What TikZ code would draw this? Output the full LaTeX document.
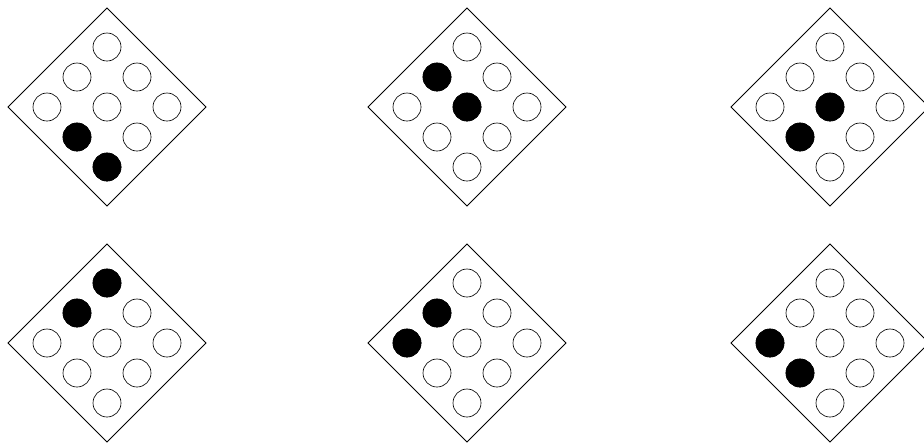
\documentclass[tikz,border=0pt]{standalone}
\usepackage{tikz}

\begin{document}
\begin{tikzpicture}[x=0.03cm,y=-0.03cm,
  board/.style={line width=0.8pt,line join=miter},
  hole/.style={circle,draw,line width=0.55pt,fill=white,minimum size=0.84cm,inner sep=0pt},
  stone/.style={hole,fill=black}]
\clip (0,0) rectangle (924,442);
\foreach \cx/\cy [count=\i] in {107/107,467/107,830/107,107/343,467/343,830/343} {
  \draw[board] ({\cx},{\cy-99}) -- ({\cx+99},{\cy}) -- ({\cx},{\cy+99}) -- ({\cx-99},{\cy}) -- cycle;
  \foreach \a in {-1,0,1}
    \foreach \b in {-1,0,1}
      \node[hole] (hole-\i-\a\b) at ({\cx+30*(\a-\b)},{\cy+30*(\a+\b)}) {};
}
\foreach \cx/\cy/\u/\v [count=\k] in {107/107/-1/1,107/107/0/2,
    467/107/-1/-1,467/107/0/0,
    830/107/0/0,830/107/-1/1,
    107/343/0/-2,107/343/-1/-1,
    467/343/-1/-1,467/343/-2/0,
    830/343/-2/0,830/343/-1/1}
  \node[stone] (stone-\k) at ({\cx+30*\u},{\cy+30*\v}) {};
\end{tikzpicture}
\end{document}
